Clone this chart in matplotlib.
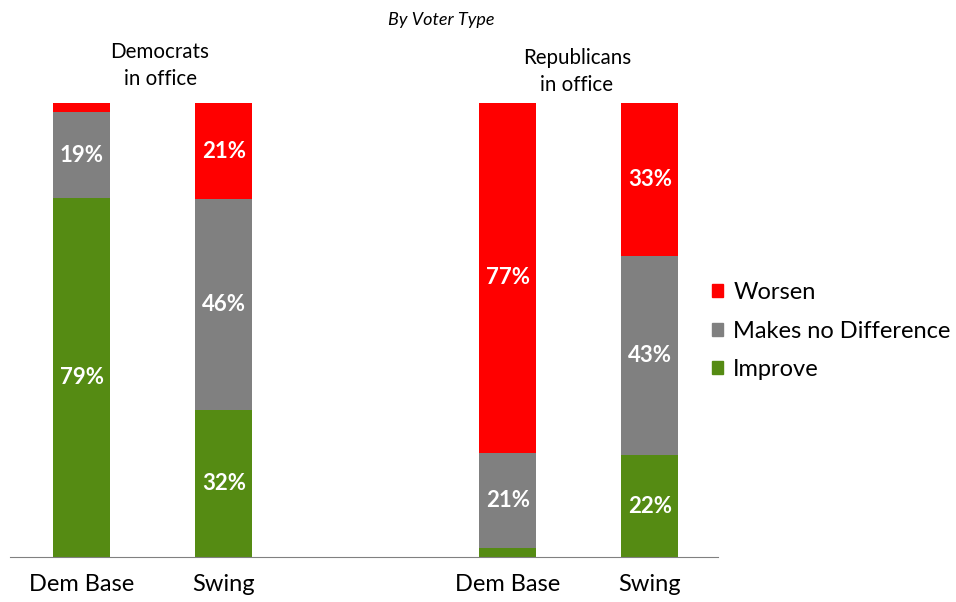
import numpy as np
import matplotlib
matplotlib.use("Agg")
import matplotlib.pyplot as plt
from matplotlib.patches import Patch

plt.rcParams['font.family'] = ['Lato', 'DejaVu Sans']

# bar slots: 0,1 = Democrats in office, 3,4 = Republicans in office
categories = ["Dem Base", "Swing", "Dem Base", "Swing"]
positions = [0, 1, 3, 4]
improve = [79, 32, 2, 22]
no_diff = [19, 46, 21, 43]
worsen = [2, 21, 77, 33]
series_names = ["Improve", "Makes no Difference", "Worsen"]
colors = ["#558B13", "#808080", "#FF0000"]

vals = np.array([improve, no_diff, worsen], dtype=float)
# 100% stacked, like the original
shares = vals / vals.sum(axis=0) * 100

W, H = 956, 602
fig = plt.figure(figsize=(W / 100, H / 100), dpi=100)
ax = fig.add_axes([10 / W, 45 / H, 708 / W, 454 / H])

bottom = np.zeros(len(positions))
for k in range(3):
    ax.bar(positions, shares[k], bottom=bottom, width=0.4, color=colors[k],
           label=series_names[k])
    for x, b, h, v in zip(positions, bottom, shares[k], vals[k]):
        if v >= 5:
            ax.text(x, b + h / 2, f"{v:.0f}%", ha='center', va='center',
                    color='white', fontsize=16, fontweight='bold')
    bottom += shares[k]

ax.set_xlim(-0.505, 4.48)
ax.set_ylim(0, 100)
ax.set_yticks([])
ax.set_xticks(positions)
ax.set_xticklabels(categories, fontsize=17)
ax.tick_params(axis='x', length=0, pad=12)
for s in ['top', 'right', 'left']:
    ax.spines[s].set_visible(False)
ax.spines['bottom'].set_color('#808080')

# group headers, one line at a time (pixel baselines from the top)
headers = [(160, 58, "Democrats"), (160, 85, "in office"),
           (577, 64, "Republicans"), (577, 91, "in office")]
for hx, hy, t in headers:
    fig.text(hx / W, 1 - hy / H, t, ha='center', va='baseline', fontsize=14.8)

fig.text(441 / W, 1 - 20 / H, "By Voter Type", ha='center', va='center',
         fontsize=13, style='italic')

handles = [Patch(color=colors[2]), Patch(color=colors[1]), Patch(color=colors[0])]
fig.legend(handles, ["Worsen", "Makes no Difference", "Improve"],
           loc='center left', bbox_to_anchor=(691 / W, 1 - 331 / H),
           frameon=False, fontsize=17, handlelength=0.47, handleheight=0.47,
           handletextpad=0.42, labelspacing=0.75)

fig.savefig("out.png", dpi=100)
